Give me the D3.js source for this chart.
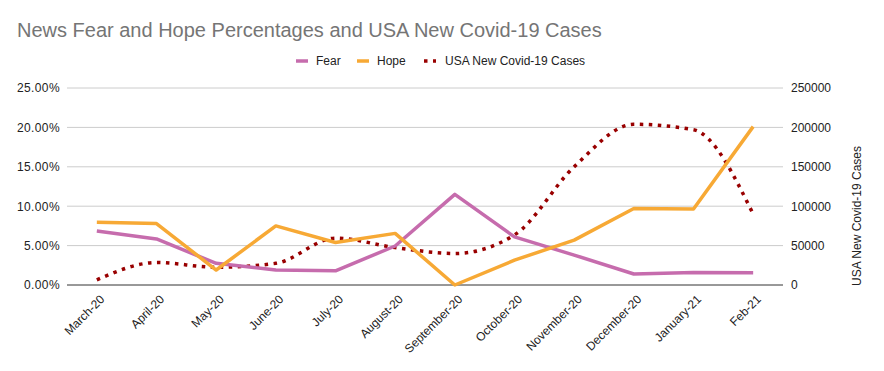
<!DOCTYPE html>
<html>
<head>
<meta charset="utf-8">
<script src="https://cdn.jsdelivr.net/npm/d3@7"></script>
<style>
  body { margin: 0; background: #fff; }
  text { font-family: "Liberation Sans", Arial, sans-serif; }
</style>
</head>
<body>
<div id="chart"></div>
<script>
// months on the x axis
var months = ["March-20", "April-20", "May-20", "June-20", "July-20", "August-20",
  "September-20", "October-20", "November-20", "December-20", "January-21", "Feb-21"];
// percentages (left axis)
var fear = [6.85, 5.85, 2.75, 1.9, 1.8, 4.95, 11.5, 6.1, 3.8, 1.4, 1.6, 1.55];
var hope = [7.95, 7.8, 1.9, 7.5, 5.4, 6.55, 0, 3.15, 5.7, 9.7, 9.65, 20.1];
// new cases (right axis)
var cases = [6500, 28500, 22500, 27500, 59500, 47500, 40000, 63500, 150000, 204000, 197000, 90000];
var leftTicks = [0, 5, 10, 15, 20, 25];
var rightTicks = [0, 50000, 100000, 150000, 200000, 250000];

var W = 884, H = 371;
var mLeft = 67, mRight = 783, mTop = 88, mBottom = 285;

var svg = d3.select("#chart").append("svg")
    .attr("width", W).attr("height", H);

var x = d3.scalePoint().domain(months).range([mLeft, mRight]).padding(0.5);
var yL = d3.scaleLinear().domain([0, 25]).range([mBottom, mTop]);
var yR = d3.scaleLinear().domain([0, 250000]).range([mBottom, mTop]);

// title
svg.append("text")
    .attr("x", 17).attr("y", 37)
    .style("font-size", "20px")
    .style("fill", "#757575")
    .text("News Fear and Hope Percentages and USA New Covid-19 Cases");

// gridlines
svg.append("g").selectAll("line")
    .data(leftTicks.slice(1))
    .enter().append("line")
    .attr("x1", mLeft).attr("x2", mRight)
    .attr("y1", function(d){ return yL(d); })
    .attr("y2", function(d){ return yL(d); })
    .style("stroke", "#cccccc").style("stroke-width", 1);

// left axis
var axL = svg.append("g")
    .attr("transform", "translate(" + mLeft + ",0)")
    .call(d3.axisLeft(yL).tickValues(leftTicks).tickSize(0).tickPadding(7)
      .tickFormat(function(d){ return d.toFixed(2) + "%"; }));
axL.select(".domain").remove();
axL.selectAll("text").style("font-size", "12px").style("letter-spacing", "0.4px").style("fill", "#222");

// right axis
var axR = svg.append("g")
    .attr("transform", "translate(" + mRight + ",0)")
    .call(d3.axisRight(yR).tickValues(rightTicks).tickSize(0).tickPadding(8)
      .tickFormat(d3.format("d")));
axR.select(".domain").remove();
axR.selectAll("text").style("font-size", "12px").style("fill", "#222");

svg.append("text")
    .attr("transform", "translate(861,216) rotate(-90)")
    .attr("text-anchor", "middle")
    .style("font-size", "12px").style("fill", "#222")
    .text("USA New Covid-19 Cases");

// x axis
var axX = svg.append("g")
    .attr("transform", "translate(0," + mBottom + ")")
    .call(d3.axisBottom(x).tickSize(0));
axX.select(".domain").remove();
axX.selectAll("text")
    .style("font-size", "12px").style("fill", "#222")
    .attr("text-anchor", "end")
    .attr("x", 0).attr("y", 0).attr("dy", "0.35em")
    .attr("transform", "translate(5,12) rotate(-45)");

svg.append("line")
    .attr("x1", mLeft).attr("x2", mRight)
    .attr("y1", mBottom).attr("y2", mBottom)
    .style("stroke", "#333").style("stroke-width", 1);

// lines
var lineL = d3.line()
    .x(function(d, i){ return x(months[i]); })
    .y(function(d){ return yL(d); });
var lineR = d3.line()
    .x(function(d, i){ return x(months[i]); })
    .y(function(d){ return yR(d); })
    .curve(d3.curveMonotoneX);

svg.append("path").datum(cases)
    .attr("d", lineR)
    .style("fill", "none").style("stroke", "#990000")
    .style("stroke-width", 3.5).style("stroke-dasharray", "3.5,5.5");

svg.append("path").datum(fear)
    .attr("d", lineL)
    .style("fill", "none").style("stroke", "#c66cad")
    .style("stroke-width", 3.5).style("stroke-linejoin", "round");

svg.append("path").datum(hope)
    .attr("d", lineL)
    .style("fill", "none").style("stroke", "#f7a935")
    .style("stroke-width", 3.5).style("stroke-linejoin", "round");

// legend
var legendItems = [
  {name: "Fear", color: "#c66cad", x: 296, dash: null},
  {name: "Hope", color: "#f7a935", x: 357, dash: null},
  {name: "USA New Covid-19 Cases", color: "#990000", x: 424, dash: "3.5,5.5"}
];
var lg = svg.append("g").selectAll("g")
    .data(legendItems).enter().append("g")
    .attr("transform", function(d){ return "translate(" + d.x + ",61)"; });
lg.append("line")
    .attr("x1", 0).attr("x2", 12).attr("y1", 0).attr("y2", 0)
    .style("stroke", function(d){ return d.color; })
    .style("stroke-width", 3.5)
    .style("stroke-dasharray", function(d){ return d.dash; });
lg.append("text")
    .attr("x", function(d){ return d.dash ? 21 : 20; })
    .attr("y", 4)
    .style("font-size", "12px").style("fill", "#222")
    .text(function(d){ return d.name; });
</script>
</body>
</html>
